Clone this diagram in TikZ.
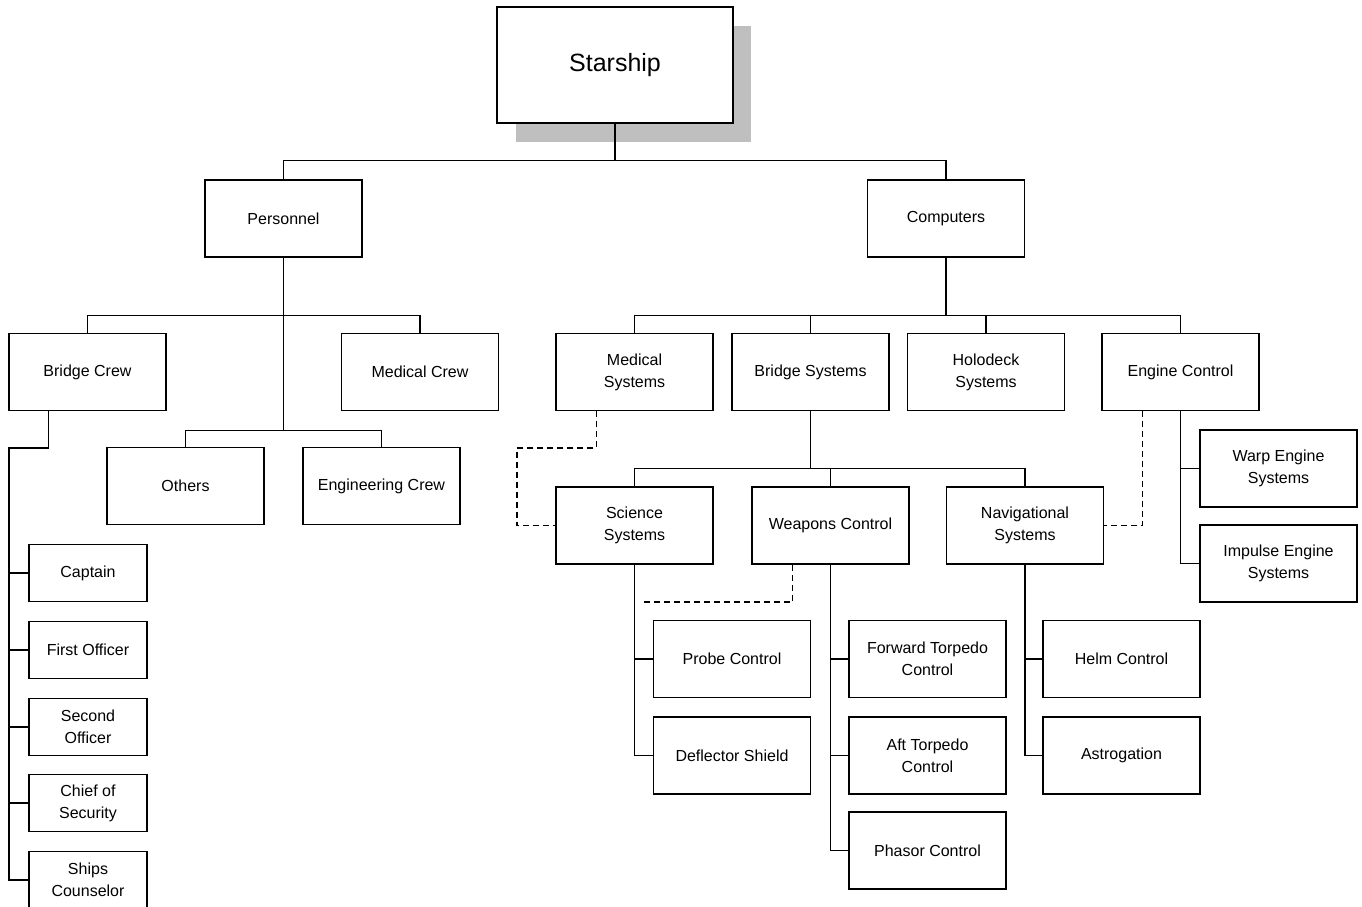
\documentclass[tikz,border=0pt]{standalone}
\usepackage{fontspec}
\setmainfont{Liberation Sans}
\begin{document}
\begin{tikzpicture}[x=1pt,y=-1pt,
  line width=1.4pt,
  unit/.style={draw, fill=white, minimum width=157pt, minimum height=77pt,
    inner sep=0pt, align=center, font=\fontsize{16}{22}\selectfont},
  crew/.style={unit, minimum width=118pt, minimum height=57pt},
  link/.style={dash pattern=on 6pt off 4pt}]
\useasboundingbox (0,0) rectangle (1362,907);

% top node with its drop shadow
\fill[black!25] (516,26) rectangle (751,142);
\node[draw, fill=white, minimum width=236pt, minimum height=116pt, inner sep=0pt,
  font=\fontsize{25}{30}\selectfont] (starship) at (615,65) {Starship};

% second level
\node[unit] (personnel) at (283.5,218.5) {Personnel};
\node[unit] (computers) at (946,218.5) {Computers};

% personnel branch
\node[unit] (bridgecrew) at (87.5,372) {Bridge Crew};
\node[unit] (medicalcrew) at (420,372) {Medical Crew};
\node[unit] (others) at (185.5,486) {Others};
\node[unit] (engcrew) at (381.5,486) {Engineering Crew};

\node[crew] (captain) at (88,573) {Captain};
\node[crew] (firstofficer) at (88,650) {First Officer};
\node[crew] (secondofficer) at (88,727) {Second\\Officer};
\node[crew] (chief) at (88,803) {Chief of\\Security};
\node[crew] (counselor) at (88,880) {Ships\\Counselor};

% computers branch
\node[unit] (medsys) at (634.5,372) {Medical\\Systems};
\node[unit] (bridgesys) at (810.5,372) {Bridge Systems};
\node[unit] (holodeck) at (986,372) {Holodeck\\Systems};
\node[unit] (enginectl) at (1180.5,372) {Engine Control};

\node[unit] (science) at (634.5,525.5) {Science\\Systems};
\node[unit] (weapons) at (830.5,525.5) {Weapons Control};
\node[unit] (nav) at (1025,525.5) {Navigational\\Systems};

\node[unit] (warp) at (1278.5,468.5) {Warp Engine\\Systems};
\node[unit] (impulse) at (1278.5,563.5) {Impulse Engine\\Systems};

\node[unit] (probe) at (732,659) {Probe Control};
\node[unit] (deflector) at (732,755.5) {Deflector Shield};
\node[unit] (fwd) at (927.5,659) {Forward Torpedo\\Control};
\node[unit] (aft) at (927.5,755.5) {Aft Torpedo\\Control};
\node[unit] (phasor) at (927.5,850.5) {Phasor Control};
\node[unit] (helm) at (1121.5,659) {Helm Control};
\node[unit] (astro) at (1121.5,755.5) {Astrogation};

% solid tree connectors
\draw (starship.south) -- ++(0,37) -| (personnel.north);
\draw (starship.south) -- ++(0,37) -| (computers.north);

\draw (personnel.south) -- ++(0,58) -| (bridgecrew.north);
\draw (personnel.south) -- ++(0,58) -| (medicalcrew.north);
\draw (personnel.south) -- ++(0,173) -| (others.north);
\draw (personnel.south) -- ++(0,173) -| (engcrew.north);

\coordinate (bcspine) at (9,448);
\draw ([xshift=40pt]bridgecrew.south west) |- (bcspine) |- (counselor.west);
\draw (bcspine |- captain.west) -- (captain.west);
\draw (bcspine |- firstofficer.west) -- (firstofficer.west);
\draw (bcspine |- secondofficer.west) -- (secondofficer.west);
\draw (bcspine |- chief.west) -- (chief.west);

\draw (computers.south) -- ++(0,58) -| (medsys.north);
\draw (computers.south) -- ++(0,58) -| (bridgesys.north);
\draw (computers.south) -- ++(0,58) -| (holodeck.north);
\draw (computers.south) -- ++(0,58) -| (enginectl.north);

\draw (bridgesys.south) -- ++(0,57) -| (science.north);
\draw (bridgesys.south) -- ++(0,57) -| (weapons.north);
\draw (bridgesys.south) -- ++(0,57) -| (nav.north);

\draw (enginectl.south) |- (warp.west);
\draw (enginectl.south) |- (impulse.west);

\draw (science.south) |- (probe.west);
\draw (science.south) |- (deflector.west);
\draw (weapons.south) |- (fwd.west);
\draw (weapons.south) |- (aft.west);
\draw (weapons.south) |- (phasor.west);
\draw (nav.south) |- (helm.west);
\draw (nav.south) |- (astro.west);

% dashed cross links
\coordinate (mdash) at (517,448);
\coordinate (wdash) at (640,602);
\draw[link] ([xshift=-38pt]medsys.south) |- (mdash) |- (science.west);
\draw[link] ([xshift=-38pt]enginectl.south) |- (nav.east);
\draw[link] ([xshift=-38pt]weapons.south) |- (wdash);
\end{tikzpicture}
\end{document}
